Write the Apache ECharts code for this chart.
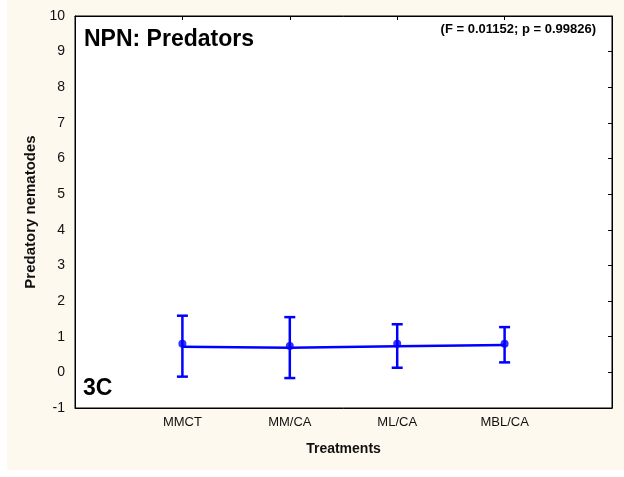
<!DOCTYPE html>
<html>
<head>
<meta charset="utf-8">
<script src="https://cdn.jsdelivr.net/npm/echarts@6/dist/echarts.min.js"></script>
<style>
html,body{margin:0;padding:0;background:#ffffff;}
#wrap{position:relative;width:624px;height:477px;}
#bg{position:absolute;left:7px;top:0;width:617px;height:470px;background:#FDF9EE;}
#chart{position:absolute;left:0;top:0;width:624px;height:477px;}
</style>
</head>
<body>
<div id="wrap"><div id="bg"></div><div id="chart"></div></div>
<script>
const categories = ['MMCT', 'MM/CA', 'ML/CA', 'MBL/CA'];
const means = [0.80, 0.74, 0.80, 0.80];
const lineValues = [0.72, 0.69, 0.73, 0.77];
const upper = [1.59, 1.55, 1.35, 1.27];
const lower = [-0.12, -0.16, 0.13, 0.28];
const yTicks = [-1, 0, 1, 2, 3, 4, 5, 6, 7, 8, 9, 10];

const axisCats = [''].concat(categories).concat(['']);
const font = '"Liberation Sans", Arial, sans-serif';
const blue = '#0000FF';

const chart = echarts.init(document.getElementById('chart'), null, {renderer: 'canvas'});
chart.setOption({
  backgroundColor: 'transparent',
  animation: false,
  grid: {left: 75, right: 12, top: 16, bottom: 69, show: true, backgroundColor: '#ffffff', borderColor: '#000000', borderWidth: 1},
  xAxis: [{
    type: 'category', data: axisCats, boundaryGap: false, position: 'bottom',
    axisLine: {show: true, onZero: false, lineStyle: {color: '#000', width: 1}},
    axisTick: {show: false},
    axisLabel: {color: '#111', fontFamily: font, fontSize: 13, margin: 8, interval: 0},
    name: 'Treatments', nameLocation: 'middle', nameGap: 34,
    nameTextStyle: {fontFamily: font, fontSize: 14, fontWeight: 'bold', color: '#111'},
    splitLine: {show: false}
  }, {
    type: 'category', data: axisCats, boundaryGap: false, position: 'top',
    axisLine: {show: true, onZero: false, lineStyle: {color: '#000'}},
    axisTick: {show: true, inside: true, length: 4, lineStyle: {color: '#000'}, interval: function (i) { return i > 0 && i < axisCats.length - 1; }},
    axisLabel: {show: false}, splitLine: {show: false}
  }],
  yAxis: [{
    type: 'value', min: yTicks[0], max: yTicks[yTicks.length - 1], interval: 1, position: 'left',
    axisLine: {show: true, onZero: false, lineStyle: {color: '#000'}},
    axisTick: {show: false},
    axisLabel: {color: '#111', fontFamily: font, fontSize: 14, margin: 10},
    splitLine: {show: false},
    name: 'Predatory nematodes', nameLocation: 'middle', nameGap: 34, nameRotate: 90,
    nameTextStyle: {fontFamily: font, fontSize: 15, fontWeight: 'bold', color: '#111'}
  }, {
    type: 'value', min: yTicks[0], max: yTicks[yTicks.length - 1], interval: 1, position: 'right',
    axisLine: {show: true, onZero: false, lineStyle: {color: '#000'}},
    axisTick: {show: true, inside: true, length: 4, lineStyle: {color: '#000'}},
    axisLabel: {show: false}, splitLine: {show: false}
  }],
  series: [{
    type: 'custom',
    data: categories.map((c, i) => [c, lower[i], upper[i]]),
    renderItem: function (params, api) {
      const lo = api.coord([api.value(0), api.value(1)]);
      const hi = api.coord([api.value(0), api.value(2)]);
      const hw = 5.5;
      const st = {stroke: blue, lineWidth: 2.5};
      return {type: 'group', children: [
        {type: 'line', shape: {x1: lo[0], y1: lo[1], x2: hi[0], y2: hi[1]}, style: st},
        {type: 'line', shape: {x1: hi[0] - hw, y1: hi[1], x2: hi[0] + hw, y2: hi[1]}, style: st},
        {type: 'line', shape: {x1: lo[0] - hw, y1: lo[1], x2: lo[0] + hw, y2: lo[1]}, style: st}
      ]};
    },
    z: 3
  }, {
    type: 'line',
    data: categories.map((c, i) => [c, lineValues[i]]),
    symbol: 'none', lineStyle: {color: blue, width: 2.5}, z: 4
  }, {
    type: 'scatter',
    data: categories.map((c, i) => [c, means[i]]),
    symbol: 'circle', symbolSize: 8, itemStyle: {color: blue}, z: 5
  }],
  graphic: [
    {type: 'text', left: 84, top: 28, style: {text: 'NPN: Predators', font: 'bold 23px ' + font, fill: '#000'}},
    {type: 'text', right: 28, top: 23, style: {text: '(F = 0.01152; p = 0.99826)', font: 'bold 13px ' + font, fill: '#000'}},
    {type: 'text', left: 83, top: 377, style: {text: '3C', font: 'bold 23px ' + font, fill: '#000'}}
  ]
});
</script>
</body>
</html>
